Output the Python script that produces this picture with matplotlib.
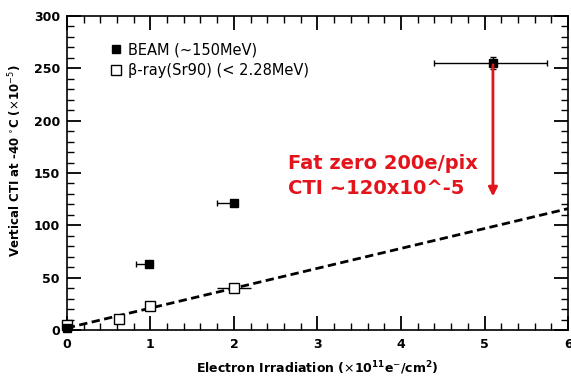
import matplotlib.pyplot as plt
import numpy as np
from matplotlib.ticker import MultipleLocator

plt.rcParams['font.family'] = ['DejaVu Sans']
plt.rcParams['mathtext.fontset'] = 'dejavusans'

# BEAM (~150MeV), filled squares
beam_x = [0.0, 0.98, 2.0, 5.1]
beam_y = [2, 63, 121, 255]
beam_xlo = [0.0, 0.15, 0.2, 0.7]
beam_xhi = [0.0, 0.0, 0.0, 0.65]
beam_yerr = [0, 0, 0, 6]

# beta-ray (Sr90), open squares
beta_x = [0.0, 0.62, 1.0, 2.0]
beta_y = [5, 11, 23, 40]
beta_xerr = [0.0, 0.0, 0.05, 0.2]

# linear fit (dashed)
fit_x = [0, 6]
fit_y = [2, 116]

fig = plt.figure(figsize=(5.71, 3.79), dpi=100)
ax = fig.add_axes([0.117, 0.129, 0.878, 0.829])

ax.plot(fit_x, fit_y, ls=(0, (3, 1.6)), color='k', lw=2, zorder=2)

ax.errorbar(beam_x, beam_y, xerr=[beam_xlo, beam_xhi], yerr=beam_yerr, fmt='none',
            ecolor='k', elinewidth=1, capsize=2, zorder=3)
ax.errorbar(beta_x, beta_y, xerr=beta_xerr, fmt='none', ecolor='k',
            elinewidth=1, capsize=0, zorder=3)
ax.plot(beam_x, beam_y, 's', ms=6, mfc='k', mec='k', clip_on=False,
        label='BEAM (~150MeV)', zorder=5)
ax.plot(beta_x, beta_y, 's', ms=7, mfc='white', mec='k', mew=1, clip_on=False,
        label='β-ray(Sr90) (< 2.28MeV)', zorder=4)

# red arrow
ax.annotate('', xy=(5.1, 125), xytext=(5.1, 256),
            arrowprops=dict(arrowstyle='-|>', color='#e3141c', lw=2,
                            mutation_scale=13), zorder=5)
ax.text(2.65, 159, 'Fat zero 200e/pix', color='#e3141c', fontsize=14,
        fontweight='bold', va='center', ha='left')
ax.text(2.65, 135, 'CTI ~120x10^-5', color='#e3141c', fontsize=14,
        fontweight='bold', va='center', ha='left')

ax.set_xlim(0, 6)
ax.set_ylim(0, 300)
ax.xaxis.set_major_locator(MultipleLocator(1))
ax.xaxis.set_minor_locator(MultipleLocator(0.2))
ax.yaxis.set_major_locator(MultipleLocator(50))
ax.yaxis.set_minor_locator(MultipleLocator(10))
ax.tick_params(axis='both', which='major', direction='in', top=True, right=True,
               length=10, width=1.3, color='k', labelsize=9)
ax.tick_params(axis='both', which='minor', direction='in', top=True, right=True,
               length=5, width=1, color='k')
ax.tick_params(axis='x', which='major', pad=6)
ax.tick_params(axis='y', which='major', pad=5)
for lab in ax.get_xticklabels() + ax.get_yticklabels():
    lab.set_fontweight('bold')
for sp in ax.spines.values():
    sp.set_linewidth(1.2)

ax.set_xlabel('Electron Irradiation ($\\times$10$^{\\mathbf{11}}$e$^{-}$/cm$^{\\mathbf{2}}$)',
              fontsize=9, fontweight='bold', labelpad=6)
ax.set_ylabel('Vertical CTI at -40 $^{\\circ}$C ($\\times$10$^{-5}$)',
              fontsize=8.5, fontweight='bold')
ax.yaxis.set_label_coords(-0.085, 0.54)

ax.legend(loc='upper left', bbox_to_anchor=(0.075, 0.935), frameon=False,
          fontsize=10.5, handletextpad=0.4, borderaxespad=0,
          labelspacing=0.4, handlelength=0.8)

fig.savefig('out.png', dpi=100)
